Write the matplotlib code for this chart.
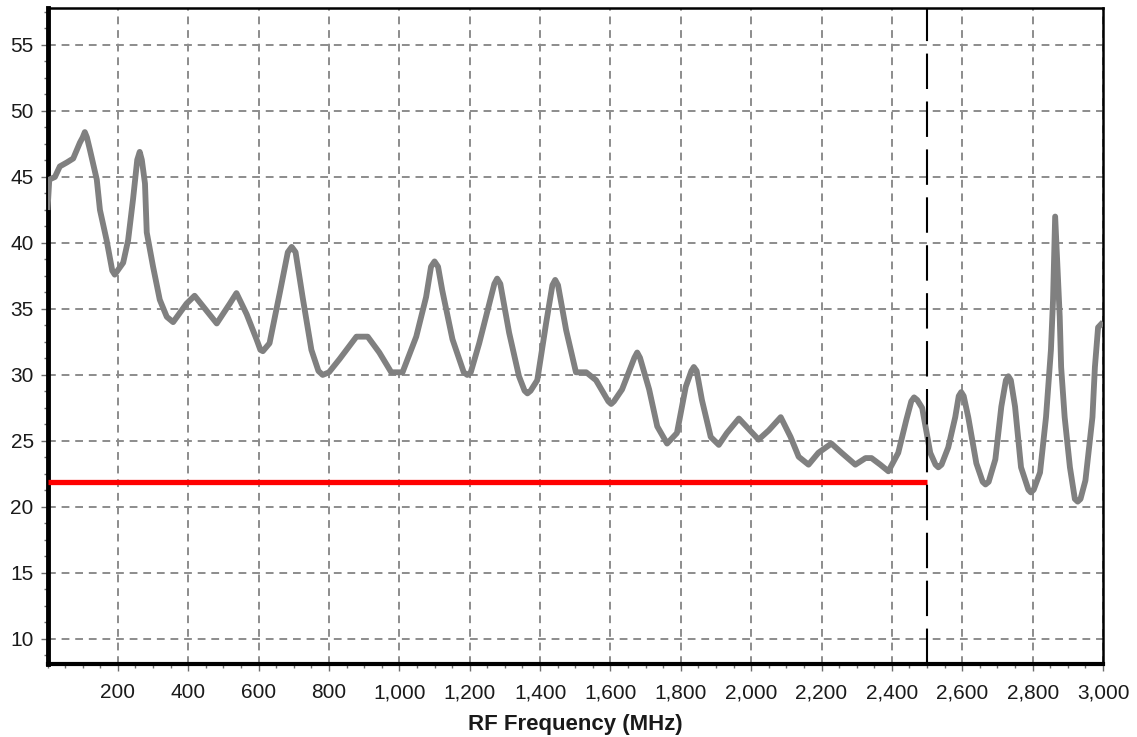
import matplotlib.pyplot as plt
from matplotlib.ticker import MultipleLocator, FixedLocator, FuncFormatter

# measured curve (MHz, dB)
freq_mhz = [0, 5, 21, 35, 55, 73, 92, 100, 106, 112, 121, 140, 149, 168, 184,
            191, 199, 215, 229, 243, 255, 262, 268, 277, 282, 300, 319, 339,
            357, 395, 418, 442, 481, 518, 537, 566, 594, 605, 612, 631, 660,
            683, 694, 705, 725, 750, 770, 782, 800, 830, 878, 910, 943, 977,
            1009, 1048, 1076, 1090, 1100, 1110, 1122, 1151, 1183, 1193, 1203,
            1227, 1270, 1278, 1287, 1312, 1340, 1356, 1364, 1373, 1392, 1417,
            1435, 1443, 1451, 1474, 1502, 1531, 1559, 1594, 1602, 1610, 1633,
            1668, 1676, 1684, 1710, 1733, 1761, 1789, 1814, 1830, 1837, 1845,
            1860, 1885, 1908, 1931, 1965, 2021, 2050, 2084, 2112, 2135, 2163,
            2191, 2228, 2257, 2296, 2325, 2342, 2367, 2390, 2418, 2441, 2455,
            2463, 2472, 2486, 2509, 2524, 2532, 2541, 2560, 2580, 2590, 2597,
            2604, 2617, 2640, 2658, 2666, 2675, 2694, 2711, 2724, 2731, 2738,
            2750, 2767, 2788, 2795, 2803, 2821, 2838, 2852, 2858, 2864, 2870,
            2877, 2881, 2891, 2906, 2920, 2928, 2936, 2950, 2970, 2977, 2986,
            3000]
level_db = [42.5, 44.8, 45.0, 45.8, 46.1, 46.4, 47.6, 48.0, 48.4, 48.0, 47.0,
            44.8, 42.5, 40.2, 37.9, 37.6, 37.9, 38.5, 40.2, 43.3, 46.3, 46.9,
            46.3, 44.5, 40.8, 38.2, 35.7, 34.4, 34.0, 35.4, 36.0, 35.2, 33.9,
            35.4, 36.2, 34.6, 32.7, 31.9, 31.8, 32.4, 36.2, 39.3, 39.7, 39.3,
            35.9, 31.9, 30.3, 30.0, 30.2, 31.2, 32.9, 32.9, 31.7, 30.2, 30.2,
            32.9, 35.9, 38.2, 38.6, 38.2, 36.4, 32.7, 30.2, 30.0, 30.2, 32.4,
            36.9, 37.3, 36.9, 33.2, 29.9, 28.8, 28.6, 28.8, 29.6, 33.9, 36.8,
            37.2, 36.8, 33.4, 30.2, 30.2, 29.6, 28.0, 27.8, 28.0, 28.9, 31.3,
            31.7, 31.3, 28.9, 26.1, 24.8, 25.6, 29.1, 30.3, 30.6, 30.3, 28.1,
            25.3, 24.7, 25.6, 26.7, 25.1, 25.8, 26.8, 25.3, 23.8, 23.2, 24.1,
            24.8, 24.1, 23.2, 23.7, 23.7, 23.2, 22.7, 24.1, 26.6, 28.0, 28.3,
            28.1, 27.5, 24.1, 23.2, 23.0, 23.2, 24.5, 26.8, 28.4, 28.7, 28.4,
            26.8, 23.3, 21.9, 21.7, 21.9, 23.6, 27.6, 29.6, 29.9, 29.6, 27.6,
            23.0, 21.3, 21.1, 21.3, 22.6, 26.8, 31.9, 35.7, 42.0, 38.5, 34.4,
            30.6, 26.8, 23.0, 20.6, 20.4, 20.6, 22.0, 26.8, 30.6, 33.6, 34.0]

limit_db = 21.9
limit_end_mhz = 2500
marker_mhz = 2500
x_ticks = list(range(200, 3001, 200))
y_ticks = list(range(10, 56, 5))

plt.rcParams['font.family'] = ['Liberation Sans', 'DejaVu Sans']

fig = plt.figure(figsize=(11.37, 7.37), dpi=100)
ax = fig.add_axes([0.0418, 0.0991, 0.9283, 0.8900])

ax.plot(freq_mhz, level_db, color='#808080', lw=4.2,
        solid_joinstyle='round', solid_capstyle='butt', zorder=3)
ax.plot([0, limit_end_mhz], [limit_db, limit_db], color='#ff0000', lw=3.8,
        solid_capstyle='butt', zorder=4)
ax.axvline(marker_mhz, color='black', lw=1.5, dashes=(17, 6), zorder=5)

ax.set_xlim(0, 3000)
ax.set_ylim(8.1, 57.8)

ax.xaxis.set_major_locator(FixedLocator(x_ticks))
ax.xaxis.set_minor_locator(MultipleLocator(50))
ax.xaxis.set_major_formatter(FuncFormatter(lambda v, p: f'{int(v):,}'))
ax.yaxis.set_major_locator(FixedLocator(y_ticks))
ax.yaxis.set_minor_locator(MultipleLocator(1.25))

ax.grid(True, which='major', color='#8c8c8c', lw=1.4, dashes=(4, 3))

ax.tick_params(axis='both', which='major', length=5, width=1,
               labelsize=15, colors='#6e6e6e', labelcolor='#1a1a1a')
ax.tick_params(axis='x', which='major', pad=9)
ax.tick_params(axis='y', which='major', pad=5)
ax.tick_params(axis='both', which='minor', length=3, width=1, colors='#6e6e6e')

for side, w in [('left', 3.5), ('bottom', 3.0), ('top', 1.8), ('right', 1.8)]:
    ax.spines[side].set_linewidth(w)
    ax.spines[side].set_color('black')

ax.set_xlabel('RF Frequency (MHz)', fontsize=16, fontweight='bold',
              color='#1a1a1a', labelpad=8)

fig.savefig('out.png', dpi=100)
